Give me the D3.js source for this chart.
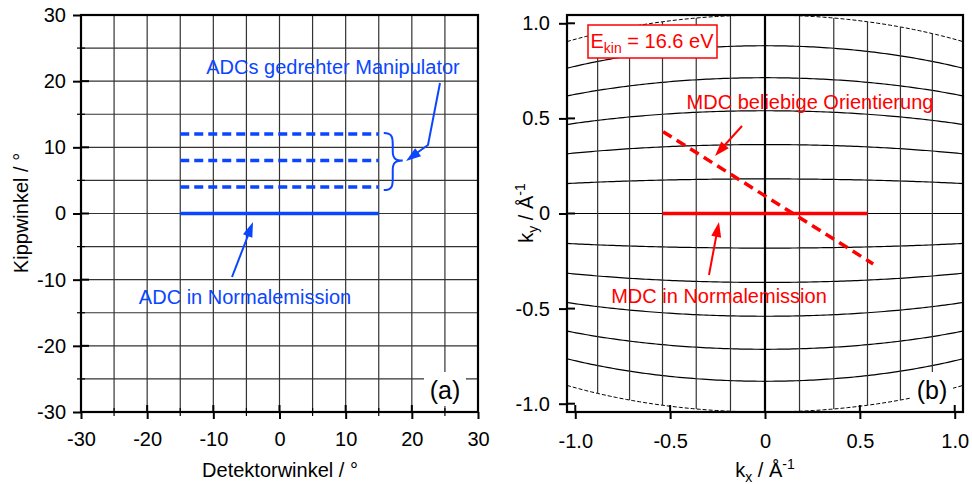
<!DOCTYPE html>
<html>
<head>
<meta charset="utf-8">
<script src="https://cdn.jsdelivr.net/npm/d3@7"></script>
<style>
  html, body { margin: 0; padding: 0; background: #fff; }
  svg { display: block; font-family: "Liberation Sans", Arial, sans-serif; }
</style>
</head>
<body>
<svg id="chart" width="972" height="484"></svg>
<script>
// ---- data ----
// angle grid (degrees) used in both panels
const gridAngles = [-30, -25, -20, -15, -10, -5, 0, 5, 10, 15, 20, 25, 30];
const angleTicks = [-30, -20, -10, 0, 10, 20, 30];
const angleMinorTicks = [-25, -15, -5, 5, 15, 25];
// angle distribution curves in panel (a)
const adcNormal = { tilt: 0, from: -15, to: 15 };
const adcRotatedTilts = [4, 8, 12];
const adcRotatedRange = [-15, 15];
// photon kinetic energy for the k-space mapping (eV)
const eKin = 16.6;
const kTicks = [-1.0, -0.5, 0, 0.5, 1.0];
// momentum distribution curves in panel (b), [kx, ky] in 1/Å
const mdcNormal = [[-0.54, 0], [0.54, 0]];
const mdcRotated = [[-0.537, 0.43], [0.57, -0.265]];

const svg = d3.select("#chart");
const black = "#000";
const blue = "#0a46ff";
const red = "#ff0000";
const FS = 20;
const SUB = 14;

function arrowHead(g, x0, y0, x1, y1, color, len = 15, half = 5) {
  const a = Math.atan2(y1 - y0, x1 - x0);
  const bx = x1 - len * Math.cos(a), by = y1 - len * Math.sin(a);
  const nx = -Math.sin(a) * half, ny = Math.cos(a) * half;
  g.append("path")
    .attr("d", `M${x1},${y1}L${bx + nx},${by + ny}L${bx - nx},${by - ny}Z`)
    .attr("fill", color);
}
const hyphen = s => s.replace("\u2212", "-");

// ================= panel (a): angle space =================
{
  const L = 81, R = 478, T = 15, B = 412;
  const x = d3.scaleLinear().domain([-30, 30]).range([L, R]);
  const y = d3.scaleLinear().domain([-30, 30]).range([B, T]);
  const g = svg.append("g");

  // grid
  g.selectAll(".vg").data(gridAngles).join("line")
    .attr("x1", d => x(d)).attr("x2", d => x(d)).attr("y1", T).attr("y2", B)
    .attr("stroke", "#333").attr("stroke-width", 1.2);
  g.selectAll(".hg").data(gridAngles).join("line")
    .attr("y1", d => y(d)).attr("y2", d => y(d)).attr("x1", L).attr("x2", R)
    .attr("stroke", "#333").attr("stroke-width", 1.2);

  // frame
  g.append("rect").attr("x", L).attr("y", T).attr("width", R - L).attr("height", B - T)
    .attr("fill", "none").attr("stroke", black).attr("stroke-width", 2.2);

  // axes
  const fmt = d => hyphen(d3.format("d")(d));
  const xa = g.append("g").attr("transform", `translate(0,${B})`)
    .call(d3.axisBottom(x).tickValues(angleTicks).tickFormat(fmt).tickSizeInner(7).tickSizeOuter(0).tickPadding(13));
  const ya = g.append("g").attr("transform", `translate(${L},0)`)
    .call(d3.axisLeft(y).tickValues(angleTicks).tickFormat(fmt).tickSizeInner(8).tickSizeOuter(0).tickPadding(7));
  [xa, ya].forEach(a => {
    a.select(".domain").remove();
    a.selectAll("line").attr("stroke", black).attr("stroke-width", 2);
    a.selectAll("text").attr("font-size", FS).attr("fill", black).attr("font-family", null);
  });
  // inner part of major ticks
  g.selectAll(".xti").data(angleTicks).join("line")
    .attr("x1", d => x(d)).attr("x2", d => x(d)).attr("y1", B).attr("y2", B - 7)
    .attr("stroke", black).attr("stroke-width", 2);
  g.selectAll(".yti").data(angleTicks).join("line")
    .attr("y1", d => y(d)).attr("y2", d => y(d)).attr("x1", L).attr("x2", L + 8)
    .attr("stroke", black).attr("stroke-width", 2);
  // minor ticks
  g.selectAll(".xtm").data(angleMinorTicks).join("line")
    .attr("x1", d => x(d)).attr("x2", d => x(d)).attr("y1", B - 4).attr("y2", B + 4)
    .attr("stroke", black).attr("stroke-width", 1.2);
  g.selectAll(".ytm").data(angleMinorTicks).join("line")
    .attr("y1", d => y(d)).attr("y2", d => y(d)).attr("x1", L - 4).attr("x2", L + 4)
    .attr("stroke", black).attr("stroke-width", 1.2);

  // axis titles
  g.append("text").attr("x", 280).attr("y", 477).attr("text-anchor", "middle")
    .attr("font-size", FS).text("Detektorwinkel / °");
  g.append("text").attr("transform", "translate(28,213) rotate(-90)").attr("text-anchor", "middle")
    .attr("font-size", FS).text("Kippwinkel / °");

  // ADC lines
  g.append("line")
    .attr("x1", x(adcNormal.from)).attr("x2", x(adcNormal.to))
    .attr("y1", y(adcNormal.tilt)).attr("y2", y(adcNormal.tilt))
    .attr("stroke", blue).attr("stroke-width", 3.5);
  g.selectAll(".adcr").data(adcRotatedTilts).join("line")
    .attr("x1", x(adcRotatedRange[0])).attr("x2", x(adcRotatedRange[1]))
    .attr("y1", d => y(d)).attr("y2", d => y(d))
    .attr("stroke", blue).attr("stroke-width", 3.5).attr("stroke-dasharray", "9,5");

  // brace grouping the rotated ADCs
  const bx = x(adcRotatedRange[1]) + 5, yt = y(12) - 1, yb = y(4) + 3, ym = y(8);
  g.append("path")
    .attr("d", `M${bx},${yt} C${bx + 9},${yt} ${bx + 9},${yt + 5} ${bx + 9},${yt + 12}
                L${bx + 9},${ym - 9} C${bx + 9},${ym - 2} ${bx + 12},${ym} ${bx + 19},${ym}
                C${bx + 12},${ym} ${bx + 9},${ym + 2} ${bx + 9},${ym + 9}
                L${bx + 9},${yb - 12} C${bx + 9},${yb - 5} ${bx + 9},${yb} ${bx},${yb}`)
    .attr("fill", "none").attr("stroke", blue).attr("stroke-width", 2);

  // annotations
  g.append("text").attr("x", 333).attr("y", 74).attr("text-anchor", "middle")
    .attr("font-size", FS).attr("fill", blue).text("ADCs gedrehter Manipulator");
  g.append("polyline").attr("points", "440,83 428,145 414,155")
    .attr("fill", "none").attr("stroke", blue).attr("stroke-width", 2);
  arrowHead(g, 428, 145, 406, 161, blue);

  g.append("text").attr("x", 245).attr("y", 304).attr("text-anchor", "middle")
    .attr("font-size", FS).attr("fill", blue).text("ADC in Normalemission");
  g.append("line").attr("x1", 232).attr("y1", 277).attr("x2", 249).attr("y2", 233)
    .attr("stroke", blue).attr("stroke-width", 2);
  arrowHead(g, 232, 277, 253, 222, blue);

  // panel label
  g.append("rect").attr("x", 424).attr("y", 372).attr("width", 42).attr("height", 34).attr("fill", "#fff");
  g.append("text").attr("x", 445).attr("y", 399).attr("text-anchor", "middle")
    .attr("font-size", 25).text("(a)");
}

// ================= panel (b): momentum space =================
{
  const L = 567, R = 963, T = 15, B = 412;
  const k = 0.5123 * Math.sqrt(eKin);          // total momentum, 1/Å
  const kMax = k * Math.sin(30 * Math.PI / 180);
  const x = d3.scaleLinear().domain([-kMax, kMax]).range([L, R]);
  const y = d3.scaleLinear().domain([-kMax, kMax]).range([B, T]);
  const rad = d => d * Math.PI / 180;
  const toK = (a, b) => [k * Math.sin(rad(a)), k * Math.cos(rad(a)) * Math.sin(rad(b))];
  const g = svg.append("g");

  svg.append("clipPath").attr("id", "clipB").append("rect")
    .attr("x", L).attr("y", T).attr("width", R - L).attr("height", B - T);
  const grid = g.append("g").attr("clip-path", "url(#clipB)");
  const line = d3.line().x(d => x(d[0])).y(d => y(d[1])).curve(d3.curveLinear);

  // lines of constant tilt angle
  const detSamples = d3.range(-30, 30.01, 0.5);
  grid.selectAll(".tilt").data(gridAngles).join("path")
    .attr("d", b => line(detSamples.map(a => toK(a, b))))
    .attr("fill", "none").attr("stroke", black)
    .attr("stroke-width", b => Math.abs(b) === 30 ? 1 : 1.2)
    .attr("stroke-dasharray", b => Math.abs(b) === 30 ? "4,2" : null);
  // lines of constant detector angle
  grid.selectAll(".det").data(gridAngles.filter(a => Math.abs(a) < 30)).join("path")
    .attr("d", a => line([toK(a, -30), toK(a, 30)]))
    .attr("fill", "none").attr("stroke", a => a === 0 ? black : "#333")
    .attr("stroke-width", a => a === 0 ? 2.2 : 1.2);

  // frame
  g.append("rect").attr("x", L).attr("y", T).attr("width", R - L).attr("height", B - T)
    .attr("fill", "none").attr("stroke", black).attr("stroke-width", 2.2);

  const fmt = d => d === 0 ? "0" : hyphen(d3.format(".1f")(d));
  const xa = g.append("g").attr("transform", `translate(0,${B})`)
    .call(d3.axisBottom(x).tickValues(kTicks).tickFormat(fmt).tickSizeInner(7).tickSizeOuter(0).tickPadding(15));
  const ya = g.append("g").attr("transform", `translate(${L},0)`)
    .call(d3.axisLeft(y).tickValues(kTicks).tickFormat(fmt).tickSizeInner(8).tickSizeOuter(0).tickPadding(9));
  [xa, ya].forEach(a => {
    a.select(".domain").remove();
    a.selectAll("line").attr("stroke", black).attr("stroke-width", 2);
    a.selectAll("text").attr("font-size", FS).attr("fill", black).attr("font-family", null);
  });
  g.selectAll(".xti").data(kTicks).join("line")
    .attr("x1", d => x(d)).attr("x2", d => x(d)).attr("y1", B).attr("y2", B - 7)
    .attr("stroke", black).attr("stroke-width", 2);
  g.selectAll(".yti").data(kTicks).join("line")
    .attr("y1", d => y(d)).attr("y2", d => y(d)).attr("x1", L).attr("x2", L + 8)
    .attr("stroke", black).attr("stroke-width", 2);

  // axis titles
  const xt = g.append("text").attr("x", 765).attr("y", 477).attr("text-anchor", "middle").attr("font-size", FS);
  xt.append("tspan").text("k");
  xt.append("tspan").attr("dy", 5).attr("font-size", SUB).text("x");
  xt.append("tspan").attr("dy", -5).text(" / Å");
  xt.append("tspan").attr("dy", -8).attr("font-size", SUB).text("-1");
  const yt = g.append("text").attr("transform", "translate(533,213) rotate(-90)")
    .attr("text-anchor", "middle").attr("font-size", FS);
  yt.append("tspan").text("k");
  yt.append("tspan").attr("dy", 5).attr("font-size", SUB).text("y");
  yt.append("tspan").attr("dy", -5).text(" / Å");
  yt.append("tspan").attr("dy", -8).attr("font-size", SUB).text("-1");

  // MDCs
  g.append("path").attr("d", line(mdcNormal))
    .attr("stroke", red).attr("stroke-width", 3.5).attr("fill", "none");
  g.append("path").attr("d", line(mdcRotated))
    .attr("stroke", red).attr("stroke-width", 3.5).attr("fill", "none").attr("stroke-dasharray", "10,6");

  // energy label
  g.append("rect").attr("x", 588).attr("y", 25).attr("width", 129).attr("height", 33)
    .attr("fill", "#fff").attr("stroke", red).attr("stroke-width", 1.5);
  const et = g.append("text").attr("x", 652).attr("y", 48).attr("text-anchor", "middle")
    .attr("font-size", FS).attr("fill", red);
  et.append("tspan").text("E");
  et.append("tspan").attr("dy", 5).attr("font-size", SUB).text("kin");
  et.append("tspan").attr("dy", -5).text(" = 16.6 eV");

  // annotations
  g.append("text").attr("x", 810).attr("y", 109).attr("text-anchor", "middle")
    .attr("font-size", FS).attr("fill", red).text("MDC beliebige Orientierung");
  g.append("line").attr("x1", 742).attr("y1", 126).attr("x2", 723).attr("y2", 147)
    .attr("stroke", red).attr("stroke-width", 2);
  arrowHead(g, 742, 126, 715, 156, red);

  g.append("text").attr("x", 719).attr("y", 303).attr("text-anchor", "middle")
    .attr("font-size", FS).attr("fill", red).text("MDC in Normalemission");
  g.append("line").attr("x1", 709).attr("y1", 275).attr("x2", 717).attr("y2", 232)
    .attr("stroke", red).attr("stroke-width", 2);
  arrowHead(g, 709, 275, 719, 222, red);

  // panel label
  g.append("rect").attr("x", 911).attr("y", 372).attr("width", 42).attr("height", 34).attr("fill", "#fff");
  g.append("text").attr("x", 932).attr("y", 399).attr("text-anchor", "middle")
    .attr("font-size", 25).text("(b)");
}
</script>
</body>
</html>
